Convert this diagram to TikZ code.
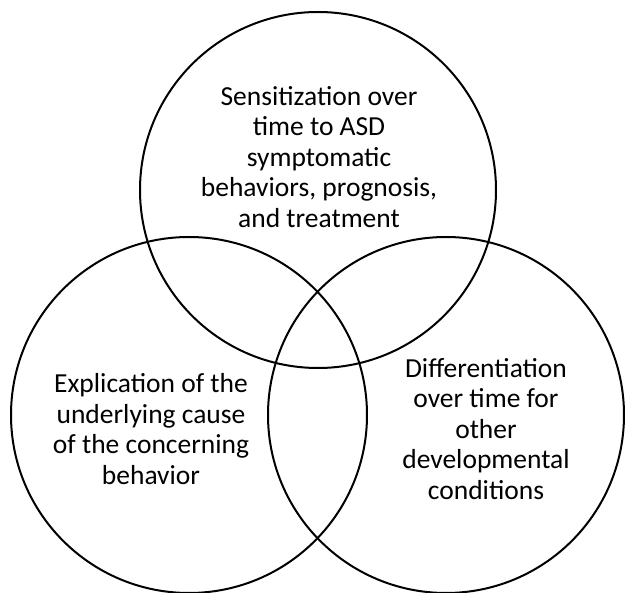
\documentclass[tikz,border=0pt]{standalone}
\usepackage{fontspec}
\setmainfont{Carlito}
\begin{document}
\begin{tikzpicture}[x=1pt,y=-1pt,
  ring/.style={draw=black,line width=2pt},
  lbl/.style={align=center,font=\fontsize{27.5}{30.5}\selectfont,inner sep=0pt}]
\useasboundingbox (0,0) rectangle (625,593);
\draw[ring] (318,190) circle (178);
\draw[ring] (189,415) circle (178);
\draw[ring] (446,415) circle (178);
\node[lbl] (top) at (319,157) {Sensitization over\\time to ASD\\symptomatic\\behaviors, prognosis,\\and treatment};
\node[lbl] (left) at (151,429) {Explication of the\\underlying cause\\of the concerning\\behavior};
\node[lbl] (right) at (486,429) {Differentiation\\over time for\\other\\developmental\\conditions};
\end{tikzpicture}
\end{document}
